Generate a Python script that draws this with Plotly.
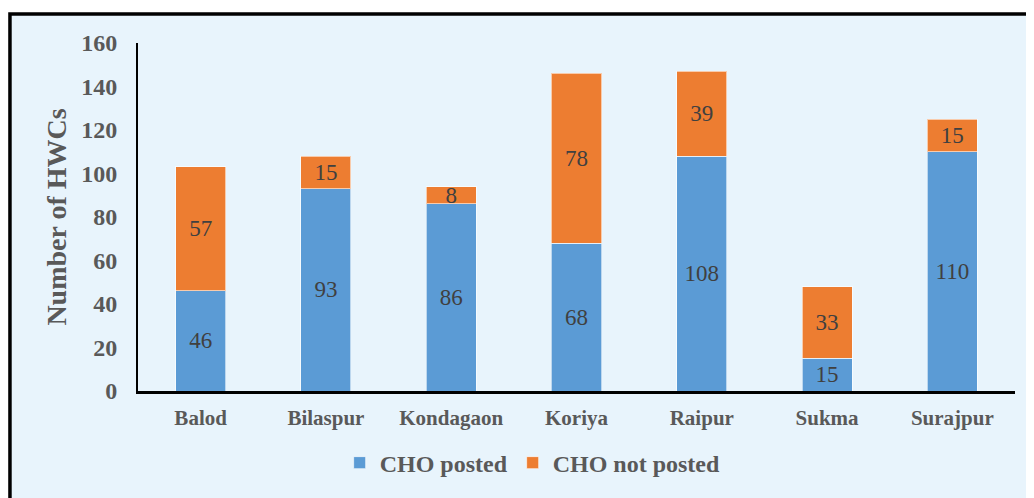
import plotly.graph_objects as go

districts = ["Balod", "Bilaspur", "Kondagaon", "Koriya", "Raipur", "Sukma", "Surajpur"]
cho_posted = [46, 93, 86, 68, 108, 15, 110]
cho_not_posted = [57, 15, 8, 78, 39, 33, 15]
y_ticks = [0, 20, 40, 60, 80, 100, 120, 140, 160]

SERIF = "Liberation Serif, Times New Roman, serif"
BLUE = "#5B9BD5"
ORANGE = "#ED7D31"
GREY = "#595959"

fig = go.Figure()

for vals, name, color in [(cho_posted, "CHO posted", BLUE),
                          (cho_not_posted, "CHO not posted", ORANGE)]:
    fig.add_trace(go.Bar(
        x=districts, y=vals, name=name,
        marker=dict(color=color, line=dict(color="rgba(255,255,255,0.6)", width=1)),
        text=vals, textposition="inside", insidetextanchor="middle",
        constraintext="none", textangle=0,
        textfont=dict(family=SERIF, size=23, color="#404040"),
        hoverinfo="skip",
    ))

# light blue panel with black top/left border (right and bottom run off the page)
fig.add_shape(
    type="rect", xref="paper", yref="paper",
    x0=-0.146, x1=1.03, y0=-0.35, y1=1.083,
    fillcolor="#E8F4FC", line=dict(color="black", width=3.5),
    layer="below",
)

# page body adds an 8px margin, so the figure is a little smaller than the window
fig.update_layout(
    barmode="stack", bargap=0.6,
    width=1026, height=490,
    margin=dict(l=130, r=19, t=35, b=107),
    paper_bgcolor="white", plot_bgcolor="rgba(0,0,0,0)",
    font=dict(family=SERIF, color=GREY),
    showlegend=True,
    legend=dict(
        orientation="h", traceorder="normal",
        x=0.45, xanchor="center", y=-0.207, yanchor="middle",
        font=dict(family=SERIF, size=24, color=GREY, weight="bold"),
        bgcolor="rgba(0,0,0,0)",
    ),
)

fig.update_yaxes(
    range=[0, 160], tickvals=y_ticks, showgrid=False, zeroline=False,
    showline=True, linecolor="black", linewidth=2,
    ticks="", ticklabelstandoff=14,
    tickfont=dict(family=SERIF, size=24, color=GREY, weight="bold"),
    title=dict(text="Number of HWCs", standoff=6,
               font=dict(family=SERIF, size=28, color=GREY, weight="bold")),
)
fig.update_xaxes(
    showgrid=False, showline=True, linecolor="black", linewidth=2.5,
    ticks="", ticklabelstandoff=6,
    tickfont=dict(family=SERIF, size=21, color=GREY, weight="bold"),
)

fig.write_html("out.html")
